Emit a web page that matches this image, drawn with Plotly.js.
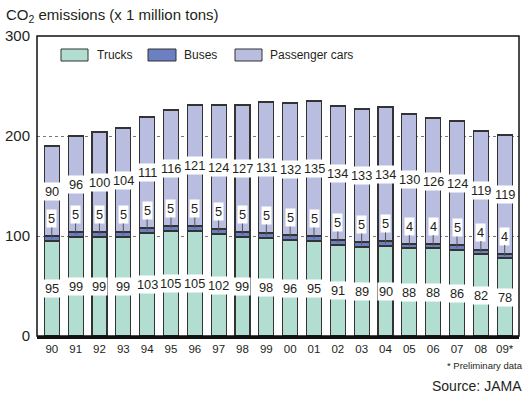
<!DOCTYPE html>
<html>
<head>
<meta charset="utf-8">
<script src="https://cdn.plot.ly/plotly-3.0.1.min.js"></script>
<style>
  html, body { margin: 0; padding: 0; background: #fff; }
  #chart { width: 526px; height: 396px; }
</style>
</head>
<body>
<div id="chart"></div>
<script>
// Fiscal years on the category axis ("09*" = preliminary)
const years = ['90','91','92','93','94','95','96','97','98','99',
               '00','01','02','03','04','05','06','07','08','09*'];

// CO2 emissions by vehicle type, million tons
const trucks = [95, 99, 99, 99, 103, 105, 105, 102, 99, 98,
                96, 95, 91, 89, 90, 88, 88, 86, 82, 78];
const buses  = [5, 5, 5, 5, 5, 5, 5, 5, 5, 5,
                5, 5, 5, 5, 5, 4, 4, 5, 4, 4];
const cars   = [90, 96, 100, 104, 111, 116, 121, 124, 127, 131,
                132, 135, 134, 133, 134, 130, 126, 124, 119, 119];

const seriesNames  = ['Trucks', 'Buses', 'Passenger cars'];
const seriesValues = [trucks, buses, cars];
const seriesColors = ['#b2ded2', '#6b7fc1', '#b9bee1'];

const yTicks = [0, 100, 200, 300];

const FONT = 'Liberation Sans, Arial, Helvetica, sans-serif';
const INK = '#231f20';

// plot-area geometry in pixels (used for the drawn legend)
const W = 526, H = 396;
const M = { l: 37, r: 7, t: 36, b: 60 };
const PW = W - M.l - M.r, PH = H - M.t - M.b;
const px2x = p => (p - M.l) / PW;
const px2y = p => (H - M.b - p) / PH;

const traces = seriesNames.map((name, k) => ({
  type: 'bar',
  name: name,
  x: years,
  y: seriesValues[k],
  marker: { color: seriesColors[k], line: { color: '#333', width: 1.2 } },
  hoverinfo: 'skip',
  showlegend: false
}));

const labelFont = { family: FONT, size: 12.8, color: INK };
const annotations = [];

// labels are placed by category index so that "00", "01"... stay categories
years.forEach((yr, i) => {
  const t = trucks[i], b = buses[i], c = cars[i];
  // truck value, centred in its segment
  annotations.push({
    x: i, y: t / 2, xref: 'x', yref: 'y', text: String(t),
    showarrow: false, bgcolor: '#fff', borderpad: 1, font: labelFont
  });
  // bus value, lifted above with a leader line into the thin segment
  annotations.push({
    x: i, y: t + b / 2, xref: 'x', yref: 'y', text: String(b),
    showarrow: true, arrowhead: 0, arrowwidth: 1, arrowcolor: '#555',
    ax: 0, ay: -20, bgcolor: '#fff', borderpad: 1, font: labelFont
  });
  // passenger car value, centred in its segment
  annotations.push({
    x: i, y: t + b + c / 2, xref: 'x', yref: 'y', text: String(c),
    showarrow: false, bgcolor: '#fff', borderpad: 1, font: labelFont
  });
});

// legend: wide swatches with names, inside the top-left of the frame
const shapes = [];
const legendItems = [
  { sx0: 61,  sx1: 88,  tx: 95 },
  { sx0: 148, sx1: 176, tx: 182 },
  { sx0: 235, sx1: 262, tx: 268 }
];
legendItems.forEach((it, k) => {
  shapes.push({
    type: 'rect', xref: 'paper', yref: 'paper',
    x0: px2x(it.sx0), x1: px2x(it.sx1), y0: px2y(61), y1: px2y(49),
    fillcolor: seriesColors[k], line: { color: '#333', width: 1 }
  });
  annotations.push({
    xref: 'paper', yref: 'paper', x: px2x(it.tx), y: px2y(55),
    xanchor: 'left', yanchor: 'middle', showarrow: false,
    text: seriesNames[k], font: { family: FONT, size: 12, color: INK }
  });
});

// frame around the plot area
shapes.push({
  type: 'rect', xref: 'paper', yref: 'paper', x0: 0, x1: 1, y0: 0, y1: 1,
  line: { color: '#111', width: 1.5 }, layer: 'above'
});

// footnotes
annotations.push({
  xref: 'paper', yref: 'paper', x: 1, xshift: 6, y: px2y(365),
  xanchor: 'right', yanchor: 'middle', showarrow: false,
  text: '* Preliminary data', font: { family: FONT, size: 9.5, color: INK }
});
annotations.push({
  xref: 'paper', yref: 'paper', x: 1, xshift: 5, y: px2y(386),
  xanchor: 'right', yanchor: 'middle', showarrow: false,
  text: 'Source: JAMA', font: { family: FONT, size: 14, color: INK }
});

const layout = {
  width: W, height: H,
  margin: M,
  paper_bgcolor: '#fff', plot_bgcolor: '#fff',
  barmode: 'stack',
  bargap: 0.37,
  font: { family: FONT, color: INK },
  title: {
    text: 'CO<sub>2</sub> emissions (x 1 million tons)',
    xref: 'container', yref: 'container',
    x: 6 / W, xanchor: 'left', y: 1 - 15 / H, yanchor: 'middle',
    font: { family: FONT, size: 15, color: INK }
  },
  xaxis: {
    type: 'category',
    categoryorder: 'array', categoryarray: years,
    range: [-0.62, 19.6],
    showgrid: false, zeroline: false,
    showline: true, linecolor: '#111', linewidth: 2.5,
    ticks: '', ticklabelstandoff: 1,
    tickfont: { family: FONT, size: 11.5, color: INK },
    fixedrange: true
  },
  yaxis: {
    range: [0, 300],
    tickvals: yTicks, ticktext: yTicks.map(String),
    showgrid: true, gridcolor: '#777', gridwidth: 1, griddash: 'dot',
    zeroline: false, showline: false, ticks: '', ticklabelstandoff: 6,
    tickfont: { family: FONT, size: 15, color: INK },
    fixedrange: true
  },
  shapes: shapes,
  annotations: annotations
};

Plotly.newPlot('chart', traces, layout, { staticPlot: true, displayModeBar: false });
</script>
</body>
</html>
